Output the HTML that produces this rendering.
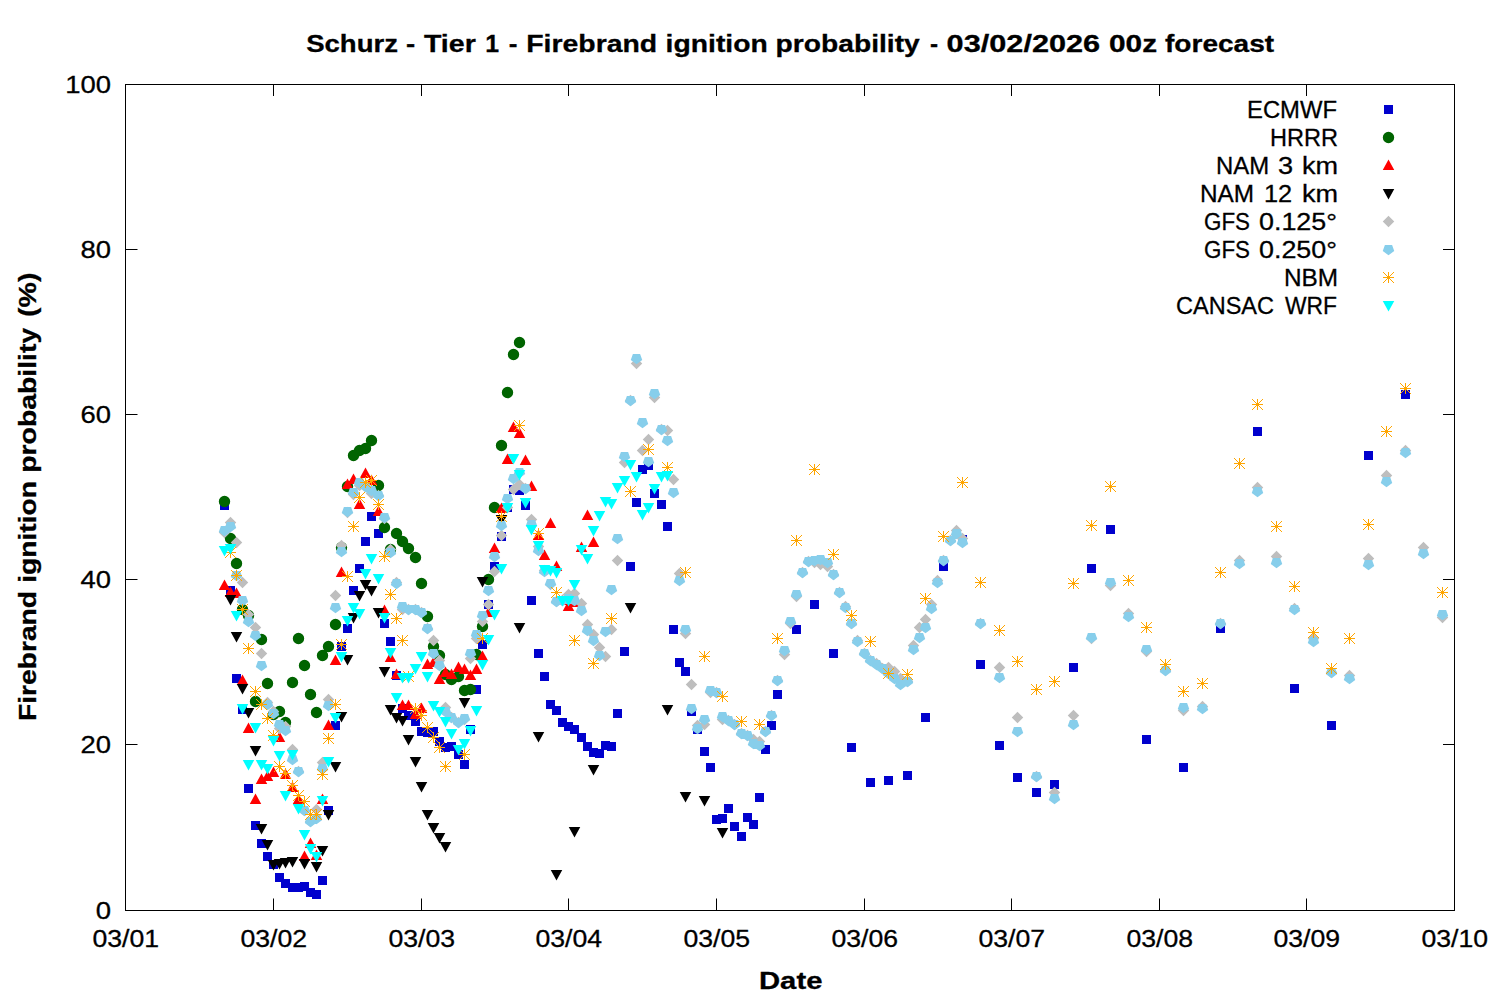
<!DOCTYPE html>
<html><head><meta charset="utf-8"><title>Firebrand ignition probability</title>
<style>html,body{margin:0;padding:0;background:#fff}svg{display:block}</style></head>
<body>
<svg width="1500" height="1000" viewBox="0 0 1500 1000">
<rect width="1500" height="1000" fill="#fff"/>
<path d="M125.5 910.5v-12M125.5 84.5v11.5M273.5 910.5v-12M273.5 84.5v11.5M421.5 910.5v-12M421.5 84.5v11.5M568.5 910.5v-12M568.5 84.5v11.5M716.5 910.5v-12M716.5 84.5v11.5M864.5 910.5v-12M864.5 84.5v11.5M1011.5 910.5v-12M1011.5 84.5v11.5M1159.5 910.5v-12M1159.5 84.5v11.5M1306.5 910.5v-12M1306.5 84.5v11.5M1454.5 910.5v-12M1454.5 84.5v11.5M125.5 910.5h12M1454.5 910.5h-11.5M125.5 744.5h12M1454.5 744.5h-11.5M125.5 579.5h12M1454.5 579.5h-11.5M125.5 414.5h12M1454.5 414.5h-11.5M125.5 249.5h12M1454.5 249.5h-11.5M125.5 84.5h12M1454.5 84.5h-11.5" stroke="#000" stroke-width="1" fill="none"/>
<path fill="#0000cd" d="M1384 105h9v9h-9zM220 501h9v9h-9zM226 586h9v9h-9zM232 674h9v9h-9zM238 705h9v9h-9zM244 784h9v9h-9zM251 821h9v9h-9zM257 839h9v9h-9zM263 852h9v9h-9zM269 860h9v9h-9zM275 873h9v9h-9zM281 879h9v9h-9zM288 883h9v9h-9zM294 883h9v9h-9zM300 882h9v9h-9zM306 888h9v9h-9zM312 890h9v9h-9zM318 876h9v9h-9zM324 806h9v9h-9zM331 721h9v9h-9zM337 642h9v9h-9zM343 624h9v9h-9zM349 586h9v9h-9zM355 564h9v9h-9zM361 537h9v9h-9zM367 512h9v9h-9zM374 529h9v9h-9zM380 619h9v9h-9zM386 637h9v9h-9zM392 671h9v9h-9zM398 704h9v9h-9zM404 711h9v9h-9zM411 717h9v9h-9zM417 727h9v9h-9zM423 728h9v9h-9zM429 727h9v9h-9zM435 737h9v9h-9zM441 743h9v9h-9zM447 742h9v9h-9zM454 750h9v9h-9zM460 760h9v9h-9zM466 725h9v9h-9zM472 685h9v9h-9zM478 640h9v9h-9zM484 600h9v9h-9zM490 562h9v9h-9zM497 532h9v9h-9zM503 503h9v9h-9zM509 485h9v9h-9zM515 486h9v9h-9zM521 501h9v9h-9zM527 596h9v9h-9zM534 649h9v9h-9zM540 672h9v9h-9zM546 700h9v9h-9zM552 706h9v9h-9zM558 718h9v9h-9zM564 722h9v9h-9zM570 725h9v9h-9zM577 733h9v9h-9zM583 742h9v9h-9zM589 748h9v9h-9zM595 749h9v9h-9zM601 741h9v9h-9zM607 742h9v9h-9zM613 709h9v9h-9zM620 647h9v9h-9zM626 562h9v9h-9zM632 498h9v9h-9zM638 465h9v9h-9zM644 461h9v9h-9zM650 489h9v9h-9zM657 500h9v9h-9zM663 522h9v9h-9zM669 625h9v9h-9zM675 658h9v9h-9zM681 667h9v9h-9zM687 707h9v9h-9zM693 725h9v9h-9zM700 747h9v9h-9zM706 763h9v9h-9zM712 815h9v9h-9zM718 814h9v9h-9zM724 804h9v9h-9zM730 822h9v9h-9zM737 832h9v9h-9zM743 813h9v9h-9zM749 820h9v9h-9zM755 793h9v9h-9zM761 745h9v9h-9zM767 721h9v9h-9zM773 690h9v9h-9zM792 625h9v9h-9zM810 600h9v9h-9zM829 649h9v9h-9zM847 743h9v9h-9zM866 778h9v9h-9zM884 776h9v9h-9zM903 771h9v9h-9zM921 713h9v9h-9zM939 562h9v9h-9zM958 535h9v9h-9zM976 660h9v9h-9zM995 741h9v9h-9zM1013 773h9v9h-9zM1032 788h9v9h-9zM1050 780h9v9h-9zM1069 663h9v9h-9zM1087 564h9v9h-9zM1106 525h9v9h-9zM1142 735h9v9h-9zM1179 763h9v9h-9zM1216 624h9v9h-9zM1253 427h9v9h-9zM1290 684h9v9h-9zM1327 721h9v9h-9zM1364 451h9v9h-9zM1401 390h9v9h-9z"/>
<path fill="#006400" d="M1382.8 137.5a5.7 5.7 0 1 0 11.4 0a5.7 5.7 0 1 0-11.4 0zM218.8 501.5a5.7 5.7 0 1 0 11.4 0a5.7 5.7 0 1 0-11.4 0zM224.8 538.5a5.7 5.7 0 1 0 11.4 0a5.7 5.7 0 1 0-11.4 0zM230.8 563.5a5.7 5.7 0 1 0 11.4 0a5.7 5.7 0 1 0-11.4 0zM236.8 609.5a5.7 5.7 0 1 0 11.4 0a5.7 5.7 0 1 0-11.4 0zM242.8 615.5a5.7 5.7 0 1 0 11.4 0a5.7 5.7 0 1 0-11.4 0zM249.8 701.5a5.7 5.7 0 1 0 11.4 0a5.7 5.7 0 1 0-11.4 0zM255.8 639.5a5.7 5.7 0 1 0 11.4 0a5.7 5.7 0 1 0-11.4 0zM261.8 683.5a5.7 5.7 0 1 0 11.4 0a5.7 5.7 0 1 0-11.4 0zM267.8 714.5a5.7 5.7 0 1 0 11.4 0a5.7 5.7 0 1 0-11.4 0zM273.8 711.5a5.7 5.7 0 1 0 11.4 0a5.7 5.7 0 1 0-11.4 0zM279.8 722.5a5.7 5.7 0 1 0 11.4 0a5.7 5.7 0 1 0-11.4 0zM286.8 682.5a5.7 5.7 0 1 0 11.4 0a5.7 5.7 0 1 0-11.4 0zM292.8 638.5a5.7 5.7 0 1 0 11.4 0a5.7 5.7 0 1 0-11.4 0zM298.8 665.5a5.7 5.7 0 1 0 11.4 0a5.7 5.7 0 1 0-11.4 0zM304.8 694.5a5.7 5.7 0 1 0 11.4 0a5.7 5.7 0 1 0-11.4 0zM310.8 712.5a5.7 5.7 0 1 0 11.4 0a5.7 5.7 0 1 0-11.4 0zM316.8 655.5a5.7 5.7 0 1 0 11.4 0a5.7 5.7 0 1 0-11.4 0zM322.8 646.5a5.7 5.7 0 1 0 11.4 0a5.7 5.7 0 1 0-11.4 0zM329.8 624.5a5.7 5.7 0 1 0 11.4 0a5.7 5.7 0 1 0-11.4 0zM335.8 547.5a5.7 5.7 0 1 0 11.4 0a5.7 5.7 0 1 0-11.4 0zM341.8 486.5a5.7 5.7 0 1 0 11.4 0a5.7 5.7 0 1 0-11.4 0zM347.8 455.5a5.7 5.7 0 1 0 11.4 0a5.7 5.7 0 1 0-11.4 0zM353.8 450.5a5.7 5.7 0 1 0 11.4 0a5.7 5.7 0 1 0-11.4 0zM359.8 448.5a5.7 5.7 0 1 0 11.4 0a5.7 5.7 0 1 0-11.4 0zM365.8 440.5a5.7 5.7 0 1 0 11.4 0a5.7 5.7 0 1 0-11.4 0zM372.8 485.5a5.7 5.7 0 1 0 11.4 0a5.7 5.7 0 1 0-11.4 0zM378.8 527.5a5.7 5.7 0 1 0 11.4 0a5.7 5.7 0 1 0-11.4 0zM384.8 549.5a5.7 5.7 0 1 0 11.4 0a5.7 5.7 0 1 0-11.4 0zM390.8 533.5a5.7 5.7 0 1 0 11.4 0a5.7 5.7 0 1 0-11.4 0zM396.8 541.5a5.7 5.7 0 1 0 11.4 0a5.7 5.7 0 1 0-11.4 0zM402.8 548.5a5.7 5.7 0 1 0 11.4 0a5.7 5.7 0 1 0-11.4 0zM409.8 557.5a5.7 5.7 0 1 0 11.4 0a5.7 5.7 0 1 0-11.4 0zM415.8 583.5a5.7 5.7 0 1 0 11.4 0a5.7 5.7 0 1 0-11.4 0zM421.8 616.5a5.7 5.7 0 1 0 11.4 0a5.7 5.7 0 1 0-11.4 0zM427.8 646.5a5.7 5.7 0 1 0 11.4 0a5.7 5.7 0 1 0-11.4 0zM433.8 655.5a5.7 5.7 0 1 0 11.4 0a5.7 5.7 0 1 0-11.4 0zM439.8 674.5a5.7 5.7 0 1 0 11.4 0a5.7 5.7 0 1 0-11.4 0zM445.8 679.5a5.7 5.7 0 1 0 11.4 0a5.7 5.7 0 1 0-11.4 0zM452.8 676.5a5.7 5.7 0 1 0 11.4 0a5.7 5.7 0 1 0-11.4 0zM458.8 690.5a5.7 5.7 0 1 0 11.4 0a5.7 5.7 0 1 0-11.4 0zM464.8 689.5a5.7 5.7 0 1 0 11.4 0a5.7 5.7 0 1 0-11.4 0zM470.8 654.5a5.7 5.7 0 1 0 11.4 0a5.7 5.7 0 1 0-11.4 0zM476.8 626.5a5.7 5.7 0 1 0 11.4 0a5.7 5.7 0 1 0-11.4 0zM482.8 579.5a5.7 5.7 0 1 0 11.4 0a5.7 5.7 0 1 0-11.4 0zM488.8 507.5a5.7 5.7 0 1 0 11.4 0a5.7 5.7 0 1 0-11.4 0zM495.8 445.5a5.7 5.7 0 1 0 11.4 0a5.7 5.7 0 1 0-11.4 0zM501.8 392.5a5.7 5.7 0 1 0 11.4 0a5.7 5.7 0 1 0-11.4 0zM507.8 354.5a5.7 5.7 0 1 0 11.4 0a5.7 5.7 0 1 0-11.4 0zM513.8 342.5a5.7 5.7 0 1 0 11.4 0a5.7 5.7 0 1 0-11.4 0z"/>
<path fill="#ff0000" d="M1388.5 159.5l5.75 10.5h-11.5zM224.5 579.5l5.75 10.5h-11.5zM230.5 586.5l5.75 10.5h-11.5zM236.5 587.5l5.75 10.5h-11.5zM242.5 674.5l5.75 10.5h-11.5zM248.5 722.5l5.75 10.5h-11.5zM255.5 793.5l5.75 10.5h-11.5zM261.5 773.5l5.75 10.5h-11.5zM267.5 770.5l5.75 10.5h-11.5zM273.5 766.5l5.75 10.5h-11.5zM279.5 731.5l5.75 10.5h-11.5zM285.5 768.5l5.75 10.5h-11.5zM292.5 781.5l5.75 10.5h-11.5zM298.5 793.5l5.75 10.5h-11.5zM304.5 850.5l5.75 10.5h-11.5zM310.5 837.5l5.75 10.5h-11.5zM316.5 849.5l5.75 10.5h-11.5zM322.5 793.5l5.75 10.5h-11.5zM328.5 719.5l5.75 10.5h-11.5zM335.5 654.5l5.75 10.5h-11.5zM341.5 566.5l5.75 10.5h-11.5zM347.5 478.5l5.75 10.5h-11.5zM353.5 473.5l5.75 10.5h-11.5zM359.5 498.5l5.75 10.5h-11.5zM365.5 467.5l5.75 10.5h-11.5zM371.5 474.5l5.75 10.5h-11.5zM378.5 505.5l5.75 10.5h-11.5zM384.5 604.5l5.75 10.5h-11.5zM390.5 651.5l5.75 10.5h-11.5zM396.5 668.5l5.75 10.5h-11.5zM402.5 699.5l5.75 10.5h-11.5zM408.5 699.5l5.75 10.5h-11.5zM415.5 708.5l5.75 10.5h-11.5zM421.5 702.5l5.75 10.5h-11.5zM427.5 658.5l5.75 10.5h-11.5zM433.5 656.5l5.75 10.5h-11.5zM439.5 673.5l5.75 10.5h-11.5zM445.5 666.5l5.75 10.5h-11.5zM451.5 668.5l5.75 10.5h-11.5zM458.5 661.5l5.75 10.5h-11.5zM464.5 663.5l5.75 10.5h-11.5zM470.5 669.5l5.75 10.5h-11.5zM476.5 663.5l5.75 10.5h-11.5zM482.5 650.5l5.75 10.5h-11.5zM488.5 606.5l5.75 10.5h-11.5zM494.5 542.5l5.75 10.5h-11.5zM501.5 502.5l5.75 10.5h-11.5zM507.5 453.5l5.75 10.5h-11.5zM513.5 421.5l5.75 10.5h-11.5zM519.5 427.5l5.75 10.5h-11.5zM525.5 454.5l5.75 10.5h-11.5zM531.5 480.5l5.75 10.5h-11.5zM538.5 529.5l5.75 10.5h-11.5zM544.5 549.5l5.75 10.5h-11.5zM550.5 517.5l5.75 10.5h-11.5zM556.5 560.5l5.75 10.5h-11.5zM562.5 594.5l5.75 10.5h-11.5zM568.5 600.5l5.75 10.5h-11.5zM574.5 596.5l5.75 10.5h-11.5zM581.5 541.5l5.75 10.5h-11.5zM587.5 509.5l5.75 10.5h-11.5zM593.5 536.5l5.75 10.5h-11.5z"/>
<path fill="#000000" d="M1388.5 199.5l5.75-10.5h-11.5zM230.5 605.5l5.75-10.5h-11.5zM236.5 642.5l5.75-10.5h-11.5zM242.5 694.5l5.75-10.5h-11.5zM248.5 718.5l5.75-10.5h-11.5zM255.5 756.5l5.75-10.5h-11.5zM261.5 834.5l5.75-10.5h-11.5zM267.5 850.5l5.75-10.5h-11.5zM273.5 870.5l5.75-10.5h-11.5zM279.5 869.5l5.75-10.5h-11.5zM285.5 868.5l5.75-10.5h-11.5zM292.5 867.5l5.75-10.5h-11.5zM304.5 869.5l5.75-10.5h-11.5zM316.5 872.5l5.75-10.5h-11.5zM322.5 856.5l5.75-10.5h-11.5zM328.5 820.5l5.75-10.5h-11.5zM335.5 772.5l5.75-10.5h-11.5zM341.5 722.5l5.75-10.5h-11.5zM347.5 665.5l5.75-10.5h-11.5zM353.5 623.5l5.75-10.5h-11.5zM359.5 601.5l5.75-10.5h-11.5zM365.5 590.5l5.75-10.5h-11.5zM371.5 596.5l5.75-10.5h-11.5zM378.5 618.5l5.75-10.5h-11.5zM384.5 677.5l5.75-10.5h-11.5zM390.5 715.5l5.75-10.5h-11.5zM396.5 723.5l5.75-10.5h-11.5zM402.5 726.5l5.75-10.5h-11.5zM408.5 745.5l5.75-10.5h-11.5zM415.5 767.5l5.75-10.5h-11.5zM421.5 792.5l5.75-10.5h-11.5zM427.5 820.5l5.75-10.5h-11.5zM433.5 833.5l5.75-10.5h-11.5zM439.5 843.5l5.75-10.5h-11.5zM445.5 852.5l5.75-10.5h-11.5zM464.5 708.5l5.75-10.5h-11.5zM482.5 587.5l5.75-10.5h-11.5zM501.5 525.5l5.75-10.5h-11.5zM519.5 633.5l5.75-10.5h-11.5zM538.5 742.5l5.75-10.5h-11.5zM556.5 880.5l5.75-10.5h-11.5zM574.5 837.5l5.75-10.5h-11.5zM593.5 775.5l5.75-10.5h-11.5zM630.5 613.5l5.75-10.5h-11.5zM667.5 715.5l5.75-10.5h-11.5zM685.5 802.5l5.75-10.5h-11.5zM704.5 806.5l5.75-10.5h-11.5zM722.5 838.5l5.75-10.5h-11.5z"/>
<path fill="#bebebe" d="M1388.5 215.75l5.75 5.75-5.75 5.75-5.75-5.75zM224.5 526.75l5.75 5.75-5.75 5.75-5.75-5.75zM230.5 516.75l5.75 5.75-5.75 5.75-5.75-5.75zM236.5 536.75l5.75 5.75-5.75 5.75-5.75-5.75zM242.5 576.75l5.75 5.75-5.75 5.75-5.75-5.75zM248.5 608.75l5.75 5.75-5.75 5.75-5.75-5.75zM255.5 621.75l5.75 5.75-5.75 5.75-5.75-5.75zM261.5 647.75l5.75 5.75-5.75 5.75-5.75-5.75zM267.5 696.75l5.75 5.75-5.75 5.75-5.75-5.75zM273.5 705.75l5.75 5.75-5.75 5.75-5.75-5.75zM279.5 722.75l5.75 5.75-5.75 5.75-5.75-5.75zM285.5 720.75l5.75 5.75-5.75 5.75-5.75-5.75zM292.5 743.75l5.75 5.75-5.75 5.75-5.75-5.75zM298.5 765.75l5.75 5.75-5.75 5.75-5.75-5.75zM304.5 804.75l5.75 5.75-5.75 5.75-5.75-5.75zM310.5 815.75l5.75 5.75-5.75 5.75-5.75-5.75zM316.5 803.75l5.75 5.75-5.75 5.75-5.75-5.75zM322.5 756.75l5.75 5.75-5.75 5.75-5.75-5.75zM328.5 693.75l5.75 5.75-5.75 5.75-5.75-5.75zM335.5 589.75l5.75 5.75-5.75 5.75-5.75-5.75zM341.5 539.75l5.75 5.75-5.75 5.75-5.75-5.75zM347.5 506.75l5.75 5.75-5.75 5.75-5.75-5.75zM353.5 488.75l5.75 5.75-5.75 5.75-5.75-5.75zM359.5 479.75l5.75 5.75-5.75 5.75-5.75-5.75zM365.5 480.75l5.75 5.75-5.75 5.75-5.75-5.75zM371.5 487.75l5.75 5.75-5.75 5.75-5.75-5.75zM378.5 489.75l5.75 5.75-5.75 5.75-5.75-5.75zM384.5 512.75l5.75 5.75-5.75 5.75-5.75-5.75zM390.5 543.75l5.75 5.75-5.75 5.75-5.75-5.75zM396.5 576.75l5.75 5.75-5.75 5.75-5.75-5.75zM402.5 603.75l5.75 5.75-5.75 5.75-5.75-5.75zM408.5 603.75l5.75 5.75-5.75 5.75-5.75-5.75zM415.5 603.75l5.75 5.75-5.75 5.75-5.75-5.75zM421.5 606.75l5.75 5.75-5.75 5.75-5.75-5.75zM427.5 622.75l5.75 5.75-5.75 5.75-5.75-5.75zM433.5 634.75l5.75 5.75-5.75 5.75-5.75-5.75zM439.5 654.75l5.75 5.75-5.75 5.75-5.75-5.75zM445.5 701.75l5.75 5.75-5.75 5.75-5.75-5.75zM451.5 711.75l5.75 5.75-5.75 5.75-5.75-5.75zM458.5 716.75l5.75 5.75-5.75 5.75-5.75-5.75zM464.5 713.75l5.75 5.75-5.75 5.75-5.75-5.75zM470.5 652.75l5.75 5.75-5.75 5.75-5.75-5.75zM476.5 632.75l5.75 5.75-5.75 5.75-5.75-5.75zM482.5 615.75l5.75 5.75-5.75 5.75-5.75-5.75zM488.5 598.75l5.75 5.75-5.75 5.75-5.75-5.75zM494.5 565.75l5.75 5.75-5.75 5.75-5.75-5.75zM501.5 529.75l5.75 5.75-5.75 5.75-5.75-5.75zM507.5 501.75l5.75 5.75-5.75 5.75-5.75-5.75zM513.5 483.75l5.75 5.75-5.75 5.75-5.75-5.75zM519.5 478.75l5.75 5.75-5.75 5.75-5.75-5.75zM525.5 482.75l5.75 5.75-5.75 5.75-5.75-5.75zM531.5 513.75l5.75 5.75-5.75 5.75-5.75-5.75zM538.5 540.75l5.75 5.75-5.75 5.75-5.75-5.75zM544.5 564.75l5.75 5.75-5.75 5.75-5.75-5.75zM550.5 578.75l5.75 5.75-5.75 5.75-5.75-5.75zM556.5 595.75l5.75 5.75-5.75 5.75-5.75-5.75zM562.5 594.75l5.75 5.75-5.75 5.75-5.75-5.75zM568.5 588.75l5.75 5.75-5.75 5.75-5.75-5.75zM574.5 587.75l5.75 5.75-5.75 5.75-5.75-5.75zM581.5 597.75l5.75 5.75-5.75 5.75-5.75-5.75zM587.5 618.75l5.75 5.75-5.75 5.75-5.75-5.75zM593.5 628.75l5.75 5.75-5.75 5.75-5.75-5.75zM599.5 641.75l5.75 5.75-5.75 5.75-5.75-5.75zM605.5 650.75l5.75 5.75-5.75 5.75-5.75-5.75zM611.5 623.75l5.75 5.75-5.75 5.75-5.75-5.75zM617.5 554.75l5.75 5.75-5.75 5.75-5.75-5.75zM624.5 456.75l5.75 5.75-5.75 5.75-5.75-5.75zM630.5 394.75l5.75 5.75-5.75 5.75-5.75-5.75zM636.5 357.75l5.75 5.75-5.75 5.75-5.75-5.75zM642.5 444.75l5.75 5.75-5.75 5.75-5.75-5.75zM648.5 433.75l5.75 5.75-5.75 5.75-5.75-5.75zM654.5 391.75l5.75 5.75-5.75 5.75-5.75-5.75zM661.5 423.75l5.75 5.75-5.75 5.75-5.75-5.75zM667.5 424.75l5.75 5.75-5.75 5.75-5.75-5.75zM673.5 473.75l5.75 5.75-5.75 5.75-5.75-5.75zM679.5 567.75l5.75 5.75-5.75 5.75-5.75-5.75zM685.5 627.75l5.75 5.75-5.75 5.75-5.75-5.75zM691.5 678.75l5.75 5.75-5.75 5.75-5.75-5.75zM697.5 719.75l5.75 5.75-5.75 5.75-5.75-5.75zM704.5 718.75l5.75 5.75-5.75 5.75-5.75-5.75zM710.5 686.75l5.75 5.75-5.75 5.75-5.75-5.75zM716.5 686.75l5.75 5.75-5.75 5.75-5.75-5.75zM722.5 713.75l5.75 5.75-5.75 5.75-5.75-5.75zM728.5 714.75l5.75 5.75-5.75 5.75-5.75-5.75zM734.5 718.75l5.75 5.75-5.75 5.75-5.75-5.75zM741.5 727.75l5.75 5.75-5.75 5.75-5.75-5.75zM747.5 729.75l5.75 5.75-5.75 5.75-5.75-5.75zM753.5 733.75l5.75 5.75-5.75 5.75-5.75-5.75zM759.5 735.75l5.75 5.75-5.75 5.75-5.75-5.75zM765.5 725.75l5.75 5.75-5.75 5.75-5.75-5.75zM771.5 709.75l5.75 5.75-5.75 5.75-5.75-5.75zM777.5 674.75l5.75 5.75-5.75 5.75-5.75-5.75zM784.5 648.75l5.75 5.75-5.75 5.75-5.75-5.75zM790.5 617.75l5.75 5.75-5.75 5.75-5.75-5.75zM796.5 590.75l5.75 5.75-5.75 5.75-5.75-5.75zM802.5 566.75l5.75 5.75-5.75 5.75-5.75-5.75zM808.5 555.75l5.75 5.75-5.75 5.75-5.75-5.75zM814.5 556.75l5.75 5.75-5.75 5.75-5.75-5.75zM820.5 558.75l5.75 5.75-5.75 5.75-5.75-5.75zM827.5 560.75l5.75 5.75-5.75 5.75-5.75-5.75zM833.5 568.75l5.75 5.75-5.75 5.75-5.75-5.75zM839.5 586.75l5.75 5.75-5.75 5.75-5.75-5.75zM845.5 600.75l5.75 5.75-5.75 5.75-5.75-5.75zM851.5 617.75l5.75 5.75-5.75 5.75-5.75-5.75zM857.5 634.75l5.75 5.75-5.75 5.75-5.75-5.75zM864.5 647.75l5.75 5.75-5.75 5.75-5.75-5.75zM870.5 654.75l5.75 5.75-5.75 5.75-5.75-5.75zM876.5 657.75l5.75 5.75-5.75 5.75-5.75-5.75zM882.5 662.75l5.75 5.75-5.75 5.75-5.75-5.75zM888.5 661.75l5.75 5.75-5.75 5.75-5.75-5.75zM894.5 665.75l5.75 5.75-5.75 5.75-5.75-5.75zM900.5 672.75l5.75 5.75-5.75 5.75-5.75-5.75zM907.5 675.75l5.75 5.75-5.75 5.75-5.75-5.75zM913.5 639.75l5.75 5.75-5.75 5.75-5.75-5.75zM919.5 621.75l5.75 5.75-5.75 5.75-5.75-5.75zM925.5 613.75l5.75 5.75-5.75 5.75-5.75-5.75zM931.5 598.75l5.75 5.75-5.75 5.75-5.75-5.75zM937.5 574.75l5.75 5.75-5.75 5.75-5.75-5.75zM943.5 554.75l5.75 5.75-5.75 5.75-5.75-5.75zM950.5 534.75l5.75 5.75-5.75 5.75-5.75-5.75zM956.5 524.75l5.75 5.75-5.75 5.75-5.75-5.75zM962.5 532.75l5.75 5.75-5.75 5.75-5.75-5.75zM980.5 617.75l5.75 5.75-5.75 5.75-5.75-5.75zM999.5 661.75l5.75 5.75-5.75 5.75-5.75-5.75zM1017.5 711.75l5.75 5.75-5.75 5.75-5.75-5.75zM1036.5 770.75l5.75 5.75-5.75 5.75-5.75-5.75zM1054.5 786.75l5.75 5.75-5.75 5.75-5.75-5.75zM1073.5 709.75l5.75 5.75-5.75 5.75-5.75-5.75zM1091.5 632.75l5.75 5.75-5.75 5.75-5.75-5.75zM1110.5 579.75l5.75 5.75-5.75 5.75-5.75-5.75zM1128.5 607.75l5.75 5.75-5.75 5.75-5.75-5.75zM1146.5 645.75l5.75 5.75-5.75 5.75-5.75-5.75zM1165.5 664.75l5.75 5.75-5.75 5.75-5.75-5.75zM1183.5 704.75l5.75 5.75-5.75 5.75-5.75-5.75zM1202.5 700.75l5.75 5.75-5.75 5.75-5.75-5.75zM1220.5 617.75l5.75 5.75-5.75 5.75-5.75-5.75zM1239.5 554.75l5.75 5.75-5.75 5.75-5.75-5.75zM1257.5 481.75l5.75 5.75-5.75 5.75-5.75-5.75zM1276.5 550.75l5.75 5.75-5.75 5.75-5.75-5.75zM1294.5 602.75l5.75 5.75-5.75 5.75-5.75-5.75zM1313.5 632.75l5.75 5.75-5.75 5.75-5.75-5.75zM1331.5 666.75l5.75 5.75-5.75 5.75-5.75-5.75zM1349.5 669.75l5.75 5.75-5.75 5.75-5.75-5.75zM1368.5 552.75l5.75 5.75-5.75 5.75-5.75-5.75zM1386.5 469.75l5.75 5.75-5.75 5.75-5.75-5.75zM1405.5 444.75l5.75 5.75-5.75 5.75-5.75-5.75zM1423.5 541.75l5.75 5.75-5.75 5.75-5.75-5.75zM1442.5 611.75l5.75 5.75-5.75 5.75-5.75-5.75z"/>
<path fill="#87ceeb" d="M1384.9 244.9h7.2l2.15 6.2-5.75 4.1-5.75-4.1zM220.9 525.9h7.2l2.15 6.2-5.75 4.1-5.75-4.1zM226.9 521.9h7.2l2.15 6.2-5.75 4.1-5.75-4.1zM232.9 570.9h7.2l2.15 6.2-5.75 4.1-5.75-4.1zM238.9 595.9h7.2l2.15 6.2-5.75 4.1-5.75-4.1zM244.9 616.9h7.2l2.15 6.2-5.75 4.1-5.75-4.1zM251.9 630.9h7.2l2.15 6.2-5.75 4.1-5.75-4.1zM257.9 660.9h7.2l2.15 6.2-5.75 4.1-5.75-4.1zM263.9 699.9h7.2l2.15 6.2-5.75 4.1-5.75-4.1zM269.9 708.9h7.2l2.15 6.2-5.75 4.1-5.75-4.1zM275.9 719.9h7.2l2.15 6.2-5.75 4.1-5.75-4.1zM281.9 725.9h7.2l2.15 6.2-5.75 4.1-5.75-4.1zM288.9 754.9h7.2l2.15 6.2-5.75 4.1-5.75-4.1zM294.9 766.9h7.2l2.15 6.2-5.75 4.1-5.75-4.1zM300.9 805.9h7.2l2.15 6.2-5.75 4.1-5.75-4.1zM306.9 816.9h7.2l2.15 6.2-5.75 4.1-5.75-4.1zM312.9 813.9h7.2l2.15 6.2-5.75 4.1-5.75-4.1zM318.9 763.9h7.2l2.15 6.2-5.75 4.1-5.75-4.1zM324.9 700.9h7.2l2.15 6.2-5.75 4.1-5.75-4.1zM331.9 602.9h7.2l2.15 6.2-5.75 4.1-5.75-4.1zM337.9 546.9h7.2l2.15 6.2-5.75 4.1-5.75-4.1zM343.9 506.9h7.2l2.15 6.2-5.75 4.1-5.75-4.1zM349.9 487.9h7.2l2.15 6.2-5.75 4.1-5.75-4.1zM355.9 477.9h7.2l2.15 6.2-5.75 4.1-5.75-4.1zM361.9 481.9h7.2l2.15 6.2-5.75 4.1-5.75-4.1zM367.9 485.9h7.2l2.15 6.2-5.75 4.1-5.75-4.1zM374.9 490.9h7.2l2.15 6.2-5.75 4.1-5.75-4.1zM380.9 512.9h7.2l2.15 6.2-5.75 4.1-5.75-4.1zM386.9 547.9h7.2l2.15 6.2-5.75 4.1-5.75-4.1zM392.9 578.9h7.2l2.15 6.2-5.75 4.1-5.75-4.1zM398.9 601.9h7.2l2.15 6.2-5.75 4.1-5.75-4.1zM404.9 604.9h7.2l2.15 6.2-5.75 4.1-5.75-4.1zM411.9 604.9h7.2l2.15 6.2-5.75 4.1-5.75-4.1zM417.9 607.9h7.2l2.15 6.2-5.75 4.1-5.75-4.1zM423.9 623.9h7.2l2.15 6.2-5.75 4.1-5.75-4.1zM429.9 648.9h7.2l2.15 6.2-5.75 4.1-5.75-4.1zM435.9 660.9h7.2l2.15 6.2-5.75 4.1-5.75-4.1zM441.9 706.9h7.2l2.15 6.2-5.75 4.1-5.75-4.1zM447.9 712.9h7.2l2.15 6.2-5.75 4.1-5.75-4.1zM454.9 717.9h7.2l2.15 6.2-5.75 4.1-5.75-4.1zM460.9 713.9h7.2l2.15 6.2-5.75 4.1-5.75-4.1zM466.9 648.9h7.2l2.15 6.2-5.75 4.1-5.75-4.1zM472.9 629.9h7.2l2.15 6.2-5.75 4.1-5.75-4.1zM478.9 610.9h7.2l2.15 6.2-5.75 4.1-5.75-4.1zM484.9 585.9h7.2l2.15 6.2-5.75 4.1-5.75-4.1zM490.9 551.9h7.2l2.15 6.2-5.75 4.1-5.75-4.1zM497.9 520.9h7.2l2.15 6.2-5.75 4.1-5.75-4.1zM503.9 493.9h7.2l2.15 6.2-5.75 4.1-5.75-4.1zM509.9 473.9h7.2l2.15 6.2-5.75 4.1-5.75-4.1zM515.9 467.9h7.2l2.15 6.2-5.75 4.1-5.75-4.1zM521.9 483.9h7.2l2.15 6.2-5.75 4.1-5.75-4.1zM527.9 519.9h7.2l2.15 6.2-5.75 4.1-5.75-4.1zM534.9 545.9h7.2l2.15 6.2-5.75 4.1-5.75-4.1zM540.9 566.9h7.2l2.15 6.2-5.75 4.1-5.75-4.1zM546.9 578.9h7.2l2.15 6.2-5.75 4.1-5.75-4.1zM552.9 596.9h7.2l2.15 6.2-5.75 4.1-5.75-4.1zM558.9 595.9h7.2l2.15 6.2-5.75 4.1-5.75-4.1zM564.9 593.9h7.2l2.15 6.2-5.75 4.1-5.75-4.1zM570.9 595.9h7.2l2.15 6.2-5.75 4.1-5.75-4.1zM577.9 605.9h7.2l2.15 6.2-5.75 4.1-5.75-4.1zM583.9 625.9h7.2l2.15 6.2-5.75 4.1-5.75-4.1zM589.9 635.9h7.2l2.15 6.2-5.75 4.1-5.75-4.1zM595.9 650.9h7.2l2.15 6.2-5.75 4.1-5.75-4.1zM601.9 626.9h7.2l2.15 6.2-5.75 4.1-5.75-4.1zM607.9 584.9h7.2l2.15 6.2-5.75 4.1-5.75-4.1zM613.9 533.9h7.2l2.15 6.2-5.75 4.1-5.75-4.1zM620.9 451.9h7.2l2.15 6.2-5.75 4.1-5.75-4.1zM626.9 395.9h7.2l2.15 6.2-5.75 4.1-5.75-4.1zM632.9 353.9h7.2l2.15 6.2-5.75 4.1-5.75-4.1zM638.9 417.9h7.2l2.15 6.2-5.75 4.1-5.75-4.1zM644.9 456.9h7.2l2.15 6.2-5.75 4.1-5.75-4.1zM650.9 388.9h7.2l2.15 6.2-5.75 4.1-5.75-4.1zM657.9 424.9h7.2l2.15 6.2-5.75 4.1-5.75-4.1zM663.9 435.9h7.2l2.15 6.2-5.75 4.1-5.75-4.1zM669.9 487.9h7.2l2.15 6.2-5.75 4.1-5.75-4.1zM675.9 575.9h7.2l2.15 6.2-5.75 4.1-5.75-4.1zM681.9 624.9h7.2l2.15 6.2-5.75 4.1-5.75-4.1zM687.9 703.9h7.2l2.15 6.2-5.75 4.1-5.75-4.1zM693.9 723.9h7.2l2.15 6.2-5.75 4.1-5.75-4.1zM700.9 714.9h7.2l2.15 6.2-5.75 4.1-5.75-4.1zM706.9 685.9h7.2l2.15 6.2-5.75 4.1-5.75-4.1zM712.9 687.9h7.2l2.15 6.2-5.75 4.1-5.75-4.1zM718.9 711.9h7.2l2.15 6.2-5.75 4.1-5.75-4.1zM724.9 715.9h7.2l2.15 6.2-5.75 4.1-5.75-4.1zM730.9 719.9h7.2l2.15 6.2-5.75 4.1-5.75-4.1zM737.9 728.9h7.2l2.15 6.2-5.75 4.1-5.75-4.1zM743.9 730.9h7.2l2.15 6.2-5.75 4.1-5.75-4.1zM749.9 738.9h7.2l2.15 6.2-5.75 4.1-5.75-4.1zM755.9 740.9h7.2l2.15 6.2-5.75 4.1-5.75-4.1zM761.9 726.9h7.2l2.15 6.2-5.75 4.1-5.75-4.1zM767.9 710.9h7.2l2.15 6.2-5.75 4.1-5.75-4.1zM773.9 675.9h7.2l2.15 6.2-5.75 4.1-5.75-4.1zM780.9 645.9h7.2l2.15 6.2-5.75 4.1-5.75-4.1zM786.9 616.9h7.2l2.15 6.2-5.75 4.1-5.75-4.1zM792.9 589.9h7.2l2.15 6.2-5.75 4.1-5.75-4.1zM798.9 567.9h7.2l2.15 6.2-5.75 4.1-5.75-4.1zM804.9 556.9h7.2l2.15 6.2-5.75 4.1-5.75-4.1zM810.9 555.9h7.2l2.15 6.2-5.75 4.1-5.75-4.1zM816.9 554.9h7.2l2.15 6.2-5.75 4.1-5.75-4.1zM823.9 557.9h7.2l2.15 6.2-5.75 4.1-5.75-4.1zM829.9 569.9h7.2l2.15 6.2-5.75 4.1-5.75-4.1zM835.9 587.9h7.2l2.15 6.2-5.75 4.1-5.75-4.1zM841.9 602.9h7.2l2.15 6.2-5.75 4.1-5.75-4.1zM847.9 618.9h7.2l2.15 6.2-5.75 4.1-5.75-4.1zM853.9 636.9h7.2l2.15 6.2-5.75 4.1-5.75-4.1zM860.9 648.9h7.2l2.15 6.2-5.75 4.1-5.75-4.1zM866.9 655.9h7.2l2.15 6.2-5.75 4.1-5.75-4.1zM872.9 659.9h7.2l2.15 6.2-5.75 4.1-5.75-4.1zM878.9 663.9h7.2l2.15 6.2-5.75 4.1-5.75-4.1zM884.9 668.9h7.2l2.15 6.2-5.75 4.1-5.75-4.1zM890.9 673.9h7.2l2.15 6.2-5.75 4.1-5.75-4.1zM896.9 679.9h7.2l2.15 6.2-5.75 4.1-5.75-4.1zM903.9 676.9h7.2l2.15 6.2-5.75 4.1-5.75-4.1zM909.9 644.9h7.2l2.15 6.2-5.75 4.1-5.75-4.1zM915.9 632.9h7.2l2.15 6.2-5.75 4.1-5.75-4.1zM921.9 622.9h7.2l2.15 6.2-5.75 4.1-5.75-4.1zM927.9 603.9h7.2l2.15 6.2-5.75 4.1-5.75-4.1zM933.9 577.9h7.2l2.15 6.2-5.75 4.1-5.75-4.1zM939.9 555.9h7.2l2.15 6.2-5.75 4.1-5.75-4.1zM946.9 535.9h7.2l2.15 6.2-5.75 4.1-5.75-4.1zM952.9 528.9h7.2l2.15 6.2-5.75 4.1-5.75-4.1zM958.9 537.9h7.2l2.15 6.2-5.75 4.1-5.75-4.1zM976.9 618.9h7.2l2.15 6.2-5.75 4.1-5.75-4.1zM995.9 672.9h7.2l2.15 6.2-5.75 4.1-5.75-4.1zM1013.9 726.9h7.2l2.15 6.2-5.75 4.1-5.75-4.1zM1032.9 771.9h7.2l2.15 6.2-5.75 4.1-5.75-4.1zM1050.9 793.9h7.2l2.15 6.2-5.75 4.1-5.75-4.1zM1069.9 719.9h7.2l2.15 6.2-5.75 4.1-5.75-4.1zM1087.9 632.9h7.2l2.15 6.2-5.75 4.1-5.75-4.1zM1106.9 577.9h7.2l2.15 6.2-5.75 4.1-5.75-4.1zM1124.9 611.9h7.2l2.15 6.2-5.75 4.1-5.75-4.1zM1142.9 644.9h7.2l2.15 6.2-5.75 4.1-5.75-4.1zM1161.9 665.9h7.2l2.15 6.2-5.75 4.1-5.75-4.1zM1179.9 702.9h7.2l2.15 6.2-5.75 4.1-5.75-4.1zM1198.9 703.9h7.2l2.15 6.2-5.75 4.1-5.75-4.1zM1216.9 618.9h7.2l2.15 6.2-5.75 4.1-5.75-4.1zM1235.9 558.9h7.2l2.15 6.2-5.75 4.1-5.75-4.1zM1253.9 486.9h7.2l2.15 6.2-5.75 4.1-5.75-4.1zM1272.9 557.9h7.2l2.15 6.2-5.75 4.1-5.75-4.1zM1290.9 604.9h7.2l2.15 6.2-5.75 4.1-5.75-4.1zM1309.9 636.9h7.2l2.15 6.2-5.75 4.1-5.75-4.1zM1327.9 667.9h7.2l2.15 6.2-5.75 4.1-5.75-4.1zM1345.9 673.9h7.2l2.15 6.2-5.75 4.1-5.75-4.1zM1364.9 559.9h7.2l2.15 6.2-5.75 4.1-5.75-4.1zM1382.9 476.9h7.2l2.15 6.2-5.75 4.1-5.75-4.1zM1401.9 447.9h7.2l2.15 6.2-5.75 4.1-5.75-4.1zM1419.9 548.9h7.2l2.15 6.2-5.75 4.1-5.75-4.1zM1438.9 609.9h7.2l2.15 6.2-5.75 4.1-5.75-4.1z"/>
<path fill="none" stroke="#ffa500" stroke-width="1" d="M1383 277.5h11m-5.5-5.5v11m-5.5-11l11 11m-11 0l11-11M225 552.5h11m-5.5-5.5v11m-5.5-11l11 11m-11 0l11-11M231 575.5h11m-5.5-5.5v11m-5.5-11l11 11m-11 0l11-11M237 609.5h11m-5.5-5.5v11m-5.5-11l11 11m-11 0l11-11M243 648.5h11m-5.5-5.5v11m-5.5-11l11 11m-11 0l11-11M250 691.5h11m-5.5-5.5v11m-5.5-11l11 11m-11 0l11-11M256 704.5h11m-5.5-5.5v11m-5.5-11l11 11m-11 0l11-11M262 718.5h11m-5.5-5.5v11m-5.5-11l11 11m-11 0l11-11M268 735.5h11m-5.5-5.5v11m-5.5-11l11 11m-11 0l11-11M274 766.5h11m-5.5-5.5v11m-5.5-11l11 11m-11 0l11-11M280 773.5h11m-5.5-5.5v11m-5.5-11l11 11m-11 0l11-11M287 785.5h11m-5.5-5.5v11m-5.5-11l11 11m-11 0l11-11M293 795.5h11m-5.5-5.5v11m-5.5-11l11 11m-11 0l11-11M299 801.5h11m-5.5-5.5v11m-5.5-11l11 11m-11 0l11-11M305 814.5h11m-5.5-5.5v11m-5.5-11l11 11m-11 0l11-11M311 814.5h11m-5.5-5.5v11m-5.5-11l11 11m-11 0l11-11M317 774.5h11m-5.5-5.5v11m-5.5-11l11 11m-11 0l11-11M323 738.5h11m-5.5-5.5v11m-5.5-11l11 11m-11 0l11-11M330 704.5h11m-5.5-5.5v11m-5.5-11l11 11m-11 0l11-11M336 644.5h11m-5.5-5.5v11m-5.5-11l11 11m-11 0l11-11M342 576.5h11m-5.5-5.5v11m-5.5-11l11 11m-11 0l11-11M348 526.5h11m-5.5-5.5v11m-5.5-11l11 11m-11 0l11-11M354 497.5h11m-5.5-5.5v11m-5.5-11l11 11m-11 0l11-11M360 482.5h11m-5.5-5.5v11m-5.5-11l11 11m-11 0l11-11M366 480.5h11m-5.5-5.5v11m-5.5-11l11 11m-11 0l11-11M373 504.5h11m-5.5-5.5v11m-5.5-11l11 11m-11 0l11-11M379 556.5h11m-5.5-5.5v11m-5.5-11l11 11m-11 0l11-11M385 594.5h11m-5.5-5.5v11m-5.5-11l11 11m-11 0l11-11M391 618.5h11m-5.5-5.5v11m-5.5-11l11 11m-11 0l11-11M397 640.5h11m-5.5-5.5v11m-5.5-11l11 11m-11 0l11-11M403 676.5h11m-5.5-5.5v11m-5.5-11l11 11m-11 0l11-11M410 708.5h11m-5.5-5.5v11m-5.5-11l11 11m-11 0l11-11M416 715.5h11m-5.5-5.5v11m-5.5-11l11 11m-11 0l11-11M422 727.5h11m-5.5-5.5v11m-5.5-11l11 11m-11 0l11-11M428 737.5h11m-5.5-5.5v11m-5.5-11l11 11m-11 0l11-11M434 747.5h11m-5.5-5.5v11m-5.5-11l11 11m-11 0l11-11M440 766.5h11m-5.5-5.5v11m-5.5-11l11 11m-11 0l11-11M459 754.5h11m-5.5-5.5v11m-5.5-11l11 11m-11 0l11-11M477 638.5h11m-5.5-5.5v11m-5.5-11l11 11m-11 0l11-11M496 516.5h11m-5.5-5.5v11m-5.5-11l11 11m-11 0l11-11M514 425.5h11m-5.5-5.5v11m-5.5-11l11 11m-11 0l11-11M533 533.5h11m-5.5-5.5v11m-5.5-11l11 11m-11 0l11-11M551 592.5h11m-5.5-5.5v11m-5.5-11l11 11m-11 0l11-11M569 640.5h11m-5.5-5.5v11m-5.5-11l11 11m-11 0l11-11M588 663.5h11m-5.5-5.5v11m-5.5-11l11 11m-11 0l11-11M606 618.5h11m-5.5-5.5v11m-5.5-11l11 11m-11 0l11-11M625 491.5h11m-5.5-5.5v11m-5.5-11l11 11m-11 0l11-11M643 449.5h11m-5.5-5.5v11m-5.5-11l11 11m-11 0l11-11M662 467.5h11m-5.5-5.5v11m-5.5-11l11 11m-11 0l11-11M680 572.5h11m-5.5-5.5v11m-5.5-11l11 11m-11 0l11-11M699 656.5h11m-5.5-5.5v11m-5.5-11l11 11m-11 0l11-11M717 696.5h11m-5.5-5.5v11m-5.5-11l11 11m-11 0l11-11M736 721.5h11m-5.5-5.5v11m-5.5-11l11 11m-11 0l11-11M754 724.5h11m-5.5-5.5v11m-5.5-11l11 11m-11 0l11-11M772 638.5h11m-5.5-5.5v11m-5.5-11l11 11m-11 0l11-11M791 540.5h11m-5.5-5.5v11m-5.5-11l11 11m-11 0l11-11M809 469.5h11m-5.5-5.5v11m-5.5-11l11 11m-11 0l11-11M828 554.5h11m-5.5-5.5v11m-5.5-11l11 11m-11 0l11-11M846 615.5h11m-5.5-5.5v11m-5.5-11l11 11m-11 0l11-11M865 641.5h11m-5.5-5.5v11m-5.5-11l11 11m-11 0l11-11M883 673.5h11m-5.5-5.5v11m-5.5-11l11 11m-11 0l11-11M902 674.5h11m-5.5-5.5v11m-5.5-11l11 11m-11 0l11-11M920 598.5h11m-5.5-5.5v11m-5.5-11l11 11m-11 0l11-11M938 536.5h11m-5.5-5.5v11m-5.5-11l11 11m-11 0l11-11M957 482.5h11m-5.5-5.5v11m-5.5-11l11 11m-11 0l11-11M975 582.5h11m-5.5-5.5v11m-5.5-11l11 11m-11 0l11-11M994 630.5h11m-5.5-5.5v11m-5.5-11l11 11m-11 0l11-11M1012 661.5h11m-5.5-5.5v11m-5.5-11l11 11m-11 0l11-11M1031 689.5h11m-5.5-5.5v11m-5.5-11l11 11m-11 0l11-11M1049 681.5h11m-5.5-5.5v11m-5.5-11l11 11m-11 0l11-11M1068 583.5h11m-5.5-5.5v11m-5.5-11l11 11m-11 0l11-11M1086 525.5h11m-5.5-5.5v11m-5.5-11l11 11m-11 0l11-11M1105 486.5h11m-5.5-5.5v11m-5.5-11l11 11m-11 0l11-11M1123 580.5h11m-5.5-5.5v11m-5.5-11l11 11m-11 0l11-11M1141 627.5h11m-5.5-5.5v11m-5.5-11l11 11m-11 0l11-11M1160 664.5h11m-5.5-5.5v11m-5.5-11l11 11m-11 0l11-11M1178 691.5h11m-5.5-5.5v11m-5.5-11l11 11m-11 0l11-11M1197 683.5h11m-5.5-5.5v11m-5.5-11l11 11m-11 0l11-11M1215 572.5h11m-5.5-5.5v11m-5.5-11l11 11m-11 0l11-11M1234 463.5h11m-5.5-5.5v11m-5.5-11l11 11m-11 0l11-11M1252 404.5h11m-5.5-5.5v11m-5.5-11l11 11m-11 0l11-11M1271 526.5h11m-5.5-5.5v11m-5.5-11l11 11m-11 0l11-11M1289 586.5h11m-5.5-5.5v11m-5.5-11l11 11m-11 0l11-11M1308 632.5h11m-5.5-5.5v11m-5.5-11l11 11m-11 0l11-11M1326 668.5h11m-5.5-5.5v11m-5.5-11l11 11m-11 0l11-11M1344 638.5h11m-5.5-5.5v11m-5.5-11l11 11m-11 0l11-11M1363 524.5h11m-5.5-5.5v11m-5.5-11l11 11m-11 0l11-11M1381 431.5h11m-5.5-5.5v11m-5.5-11l11 11m-11 0l11-11M1400 388.5h11m-5.5-5.5v11m-5.5-11l11 11m-11 0l11-11M1437 592.5h11m-5.5-5.5v11m-5.5-11l11 11m-11 0l11-11"/>
<path fill="#00ffff" d="M1388.5 311.5l5.75-10.5h-11.5zM224.5 556.5l5.75-10.5h-11.5zM230.5 554.5l5.75-10.5h-11.5zM236.5 621.5l5.75-10.5h-11.5zM242.5 714.5l5.75-10.5h-11.5zM248.5 770.5l5.75-10.5h-11.5zM255.5 733.5l5.75-10.5h-11.5zM261.5 770.5l5.75-10.5h-11.5zM267.5 774.5l5.75-10.5h-11.5zM273.5 746.5l5.75-10.5h-11.5zM279.5 761.5l5.75-10.5h-11.5zM285.5 801.5l5.75-10.5h-11.5zM292.5 760.5l5.75-10.5h-11.5zM298.5 814.5l5.75-10.5h-11.5zM304.5 840.5l5.75-10.5h-11.5zM310.5 854.5l5.75-10.5h-11.5zM316.5 862.5l5.75-10.5h-11.5zM322.5 806.5l5.75-10.5h-11.5zM328.5 767.5l5.75-10.5h-11.5zM335.5 723.5l5.75-10.5h-11.5zM341.5 662.5l5.75-10.5h-11.5zM347.5 626.5l5.75-10.5h-11.5zM353.5 613.5l5.75-10.5h-11.5zM359.5 619.5l5.75-10.5h-11.5zM365.5 579.5l5.75-10.5h-11.5zM371.5 564.5l5.75-10.5h-11.5zM378.5 584.5l5.75-10.5h-11.5zM384.5 623.5l5.75-10.5h-11.5zM390.5 658.5l5.75-10.5h-11.5zM396.5 703.5l5.75-10.5h-11.5zM402.5 683.5l5.75-10.5h-11.5zM408.5 683.5l5.75-10.5h-11.5zM415.5 674.5l5.75-10.5h-11.5zM421.5 662.5l5.75-10.5h-11.5zM427.5 682.5l5.75-10.5h-11.5zM433.5 711.5l5.75-10.5h-11.5zM439.5 717.5l5.75-10.5h-11.5zM445.5 727.5l5.75-10.5h-11.5zM451.5 739.5l5.75-10.5h-11.5zM458.5 755.5l5.75-10.5h-11.5zM464.5 749.5l5.75-10.5h-11.5zM470.5 736.5l5.75-10.5h-11.5zM476.5 716.5l5.75-10.5h-11.5zM482.5 670.5l5.75-10.5h-11.5zM488.5 645.5l5.75-10.5h-11.5zM494.5 620.5l5.75-10.5h-11.5zM501.5 574.5l5.75-10.5h-11.5zM507.5 513.5l5.75-10.5h-11.5zM513.5 464.5l5.75-10.5h-11.5zM519.5 480.5l5.75-10.5h-11.5zM525.5 508.5l5.75-10.5h-11.5zM531.5 535.5l5.75-10.5h-11.5zM538.5 551.5l5.75-10.5h-11.5zM544.5 575.5l5.75-10.5h-11.5zM550.5 576.5l5.75-10.5h-11.5zM556.5 578.5l5.75-10.5h-11.5zM562.5 606.5l5.75-10.5h-11.5zM568.5 606.5l5.75-10.5h-11.5zM574.5 590.5l5.75-10.5h-11.5zM581.5 555.5l5.75-10.5h-11.5zM587.5 564.5l5.75-10.5h-11.5zM593.5 536.5l5.75-10.5h-11.5zM599.5 521.5l5.75-10.5h-11.5zM605.5 507.5l5.75-10.5h-11.5zM611.5 509.5l5.75-10.5h-11.5zM617.5 493.5l5.75-10.5h-11.5zM624.5 486.5l5.75-10.5h-11.5zM630.5 470.5l5.75-10.5h-11.5zM636.5 482.5l5.75-10.5h-11.5zM642.5 520.5l5.75-10.5h-11.5zM648.5 513.5l5.75-10.5h-11.5zM654.5 494.5l5.75-10.5h-11.5zM661.5 482.5l5.75-10.5h-11.5zM667.5 481.5l5.75-10.5h-11.5z"/>
<rect x="125.5" y="84.5" width="1329" height="826" fill="none" stroke="#000" stroke-width="1"/>
<g font-family="'Liberation Sans', sans-serif" fill="#000" stroke="#000" stroke-width="0.3">
<text x="306.2" y="51.6" text-anchor="start" font-size="24.7" font-weight="bold" textLength="91.8" lengthAdjust="spacingAndGlyphs">Schurz</text>
<text x="406" y="51.6" text-anchor="start" font-size="24.7" font-weight="bold" textLength="9.2" lengthAdjust="spacingAndGlyphs">-</text>
<text x="423.9" y="51.6" text-anchor="start" font-size="24.7" font-weight="bold" textLength="51.9" lengthAdjust="spacingAndGlyphs">Tier</text>
<text x="485.2" y="51.6" text-anchor="start" font-size="24.7" font-weight="bold" textLength="13.8" lengthAdjust="spacingAndGlyphs">1</text>
<text x="508.7" y="51.6" text-anchor="start" font-size="24.7" font-weight="bold" textLength="8.7" lengthAdjust="spacingAndGlyphs">-</text>
<text x="526.2" y="51.6" text-anchor="start" font-size="24.7" font-weight="bold" textLength="131" lengthAdjust="spacingAndGlyphs">Firebrand</text>
<text x="665.6" y="51.6" text-anchor="start" font-size="24.7" font-weight="bold" textLength="102.2" lengthAdjust="spacingAndGlyphs">ignition</text>
<text x="775.6" y="51.6" text-anchor="start" font-size="24.7" font-weight="bold" textLength="144.2" lengthAdjust="spacingAndGlyphs">probability</text>
<text x="929.9" y="51.6" text-anchor="start" font-size="24.7" font-weight="bold" textLength="8.1" lengthAdjust="spacingAndGlyphs">-</text>
<text x="946.6" y="51.6" text-anchor="start" font-size="24.7" font-weight="bold" textLength="153.6" lengthAdjust="spacingAndGlyphs">03/02/2026</text>
<text x="1109" y="51.6" text-anchor="start" font-size="24.7" font-weight="bold" textLength="48.1" lengthAdjust="spacingAndGlyphs">00z</text>
<text x="1165" y="51.6" text-anchor="start" font-size="24.7" font-weight="bold" textLength="109.2" lengthAdjust="spacingAndGlyphs">forecast</text>
<text x="790.7" y="988.7" text-anchor="middle" font-size="24.7" font-weight="bold" textLength="63.4" lengthAdjust="spacingAndGlyphs">Date</text>
<text x="35.6" y="721" text-anchor="start" font-size="24.7" font-weight="bold" textLength="130.1" lengthAdjust="spacingAndGlyphs" transform="rotate(-90 35.6 721)">Firebrand</text>
<text x="35.6" y="582.8" text-anchor="start" font-size="24.7" font-weight="bold" textLength="101.8" lengthAdjust="spacingAndGlyphs" transform="rotate(-90 35.6 582.8)">ignition</text>
<text x="35.6" y="472.8" text-anchor="start" font-size="24.7" font-weight="bold" textLength="145" lengthAdjust="spacingAndGlyphs" transform="rotate(-90 35.6 472.8)">probability</text>
<text x="35.6" y="316.9" text-anchor="start" font-size="24.7" font-weight="bold" textLength="44.3" lengthAdjust="spacingAndGlyphs" transform="rotate(-90 35.6 316.9)">(%)</text>
<text x="125.8" y="946.9" text-anchor="middle" font-size="24.7" textLength="66.6" lengthAdjust="spacingAndGlyphs">03/01</text>
<text x="273.8" y="946.9" text-anchor="middle" font-size="24.7" textLength="66.6" lengthAdjust="spacingAndGlyphs">03/02</text>
<text x="421.8" y="946.9" text-anchor="middle" font-size="24.7" textLength="66.6" lengthAdjust="spacingAndGlyphs">03/03</text>
<text x="568.8" y="946.9" text-anchor="middle" font-size="24.7" textLength="66.6" lengthAdjust="spacingAndGlyphs">03/04</text>
<text x="716.8" y="946.9" text-anchor="middle" font-size="24.7" textLength="66.6" lengthAdjust="spacingAndGlyphs">03/05</text>
<text x="864.8" y="946.9" text-anchor="middle" font-size="24.7" textLength="66.6" lengthAdjust="spacingAndGlyphs">03/06</text>
<text x="1011.8" y="946.9" text-anchor="middle" font-size="24.7" textLength="66.6" lengthAdjust="spacingAndGlyphs">03/07</text>
<text x="1159.8" y="946.9" text-anchor="middle" font-size="24.7" textLength="66.6" lengthAdjust="spacingAndGlyphs">03/08</text>
<text x="1306.8" y="946.9" text-anchor="middle" font-size="24.7" textLength="66.6" lengthAdjust="spacingAndGlyphs">03/09</text>
<text x="1454.8" y="946.9" text-anchor="middle" font-size="24.7" textLength="66.6" lengthAdjust="spacingAndGlyphs">03/10</text>
<text x="111" y="919.1" text-anchor="end" font-size="24.7" textLength="15.3" lengthAdjust="spacingAndGlyphs">0</text>
<text x="111" y="753.1" text-anchor="end" font-size="24.7" textLength="30.5" lengthAdjust="spacingAndGlyphs">20</text>
<text x="111" y="588.1" text-anchor="end" font-size="24.7" textLength="30.5" lengthAdjust="spacingAndGlyphs">40</text>
<text x="111" y="423.1" text-anchor="end" font-size="24.7" textLength="30.5" lengthAdjust="spacingAndGlyphs">60</text>
<text x="111" y="258.1" text-anchor="end" font-size="24.7" textLength="30.5" lengthAdjust="spacingAndGlyphs">80</text>
<text x="111" y="93.1" text-anchor="end" font-size="24.7" textLength="45.8" lengthAdjust="spacingAndGlyphs">100</text>
<text x="1247" y="117.9" text-anchor="start" font-size="24.7" textLength="90" lengthAdjust="spacingAndGlyphs">ECMWF</text>
<text x="1270" y="145.9" text-anchor="start" font-size="24.7" textLength="68" lengthAdjust="spacingAndGlyphs">HRRR</text>
<text x="1216" y="173.9" text-anchor="start" font-size="24.7" textLength="53.1" lengthAdjust="spacingAndGlyphs">NAM</text>
<text x="1277.9" y="173.9" text-anchor="start" font-size="24.7" textLength="15.1" lengthAdjust="spacingAndGlyphs">3</text>
<text x="1302" y="173.9" text-anchor="start" font-size="24.7" textLength="36.1" lengthAdjust="spacingAndGlyphs">km</text>
<text x="1199.9" y="201.9" text-anchor="start" font-size="24.7" textLength="54.1" lengthAdjust="spacingAndGlyphs">NAM</text>
<text x="1263.9" y="201.9" text-anchor="start" font-size="24.7" textLength="28.2" lengthAdjust="spacingAndGlyphs">12</text>
<text x="1302" y="201.9" text-anchor="start" font-size="24.7" textLength="36.1" lengthAdjust="spacingAndGlyphs">km</text>
<text x="1204" y="229.9" text-anchor="start" font-size="24.7" textLength="46" lengthAdjust="spacingAndGlyphs">GFS</text>
<text x="1259" y="229.9" text-anchor="start" font-size="24.7" textLength="78" lengthAdjust="spacingAndGlyphs">0.125°</text>
<text x="1204" y="257.9" text-anchor="start" font-size="24.7" textLength="46" lengthAdjust="spacingAndGlyphs">GFS</text>
<text x="1259" y="257.9" text-anchor="start" font-size="24.7" textLength="78" lengthAdjust="spacingAndGlyphs">0.250°</text>
<text x="1284" y="285.9" text-anchor="start" font-size="24.7" textLength="54.1" lengthAdjust="spacingAndGlyphs">NBM</text>
<text x="1176" y="313.9" text-anchor="start" font-size="24.7" textLength="98" lengthAdjust="spacingAndGlyphs">CANSAC</text>
<text x="1285" y="313.9" text-anchor="start" font-size="24.7" textLength="52" lengthAdjust="spacingAndGlyphs">WRF</text>
</g>
</svg>
</body></html>
